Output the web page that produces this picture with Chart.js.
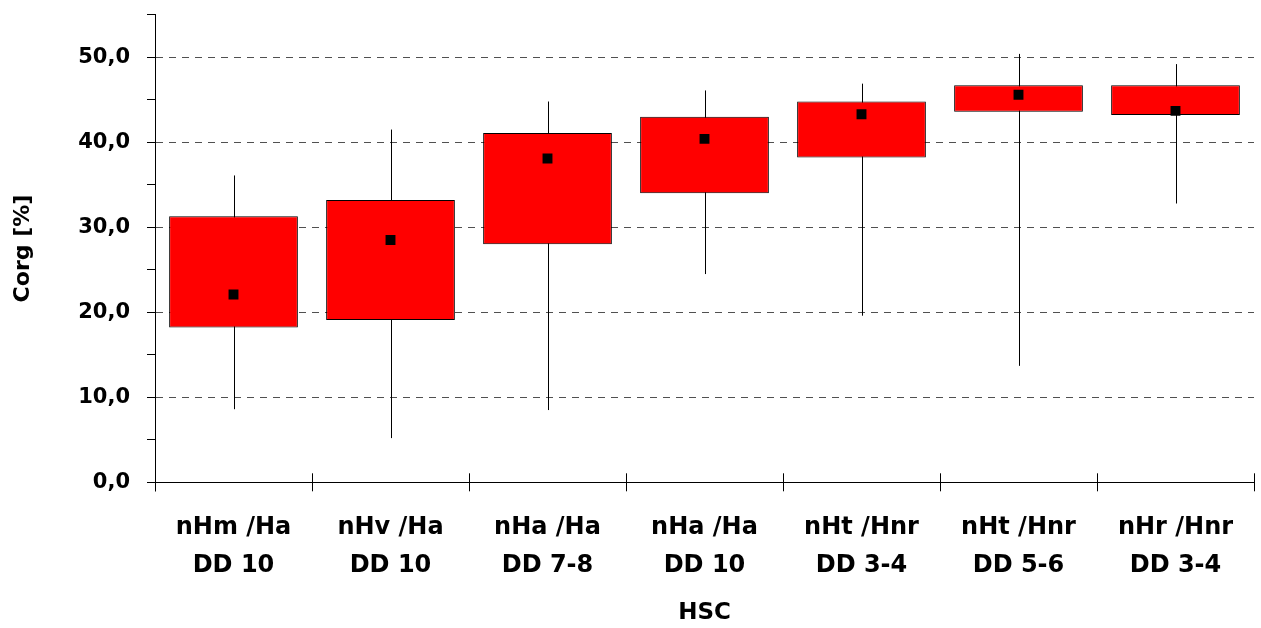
<!DOCTYPE html>
<html>
<head>
<meta charset="utf-8">
<script src="https://cdn.jsdelivr.net/npm/chart.js@4/dist/chart.umd.min.js"></script>
<style>
  html, body { margin: 0; padding: 0; background: #fff; }
  #wrap { width: 1261px; height: 628px; }
</style>
</head>
<body>
<div id="wrap"><canvas id="c" width="1261" height="628"></canvas></div>
<script>
const categories = [
  ["nHm /Ha", "DD 10"],
  ["nHv /Ha", "DD 10"],
  ["nHa /Ha", "DD 7-8"],
  ["nHa /Ha", "DD 10"],
  ["nHt /Hnr", "DD 3-4"],
  ["nHt /Hnr", "DD 5-6"],
  ["nHr /Hnr", "DD 3-4"]
];
const boxLow      = [18.2, 19.1, 28.0, 34.0, 38.2, 43.6, 43.2];
const boxHigh     = [31.3, 33.2, 41.1, 43.0, 44.8, 46.7, 46.7];
const whiskerLow  = [8.6, 5.2, 8.5, 24.5, 19.6, 13.7, 32.8];
const whiskerHigh = [36.1, 41.5, 44.8, 46.1, 46.9, 50.4, 49.2];
const markerVals  = [22.1, 28.5, 38.1, 40.4, 43.3, 45.6, 43.7];
const yTickValues = [0, 10, 20, 30, 40, 50];

const FONT = "'DejaVu Sans', 'Liberation Sans', Arial, sans-serif";

const boxData = boxLow.map((lo, i) => [lo, boxHigh[i]]);

const extrasPlugin = {
  id: 'extras',
  beforeDatasetsDraw(chart) {
    const ctx = chart.ctx;
    const x = chart.scales.x, y = chart.scales.y;
    ctx.save();
    ctx.strokeStyle = '#000';
    ctx.lineWidth = 1;
    for (let i = 0; i < categories.length; i++) {
      const px = Math.round(x.getPixelForValue(i)) + 0.5;
      ctx.beginPath();
      ctx.moveTo(px, y.getPixelForValue(whiskerLow[i]));
      ctx.lineTo(px, y.getPixelForValue(whiskerHigh[i]));
      ctx.stroke();
    }
    ctx.restore();
  },
  afterDraw(chart) {
    const ctx = chart.ctx;
    const x = chart.scales.x;
    const area = chart.chartArea;
    ctx.save();
    ctx.strokeStyle = '#000';
    ctx.lineWidth = 1;
    for (let i = 0; i <= categories.length; i++) {
      const px = Math.round(x.getPixelForValue(i - 0.5)) + 0.5;
      ctx.beginPath();
      ctx.moveTo(px, area.bottom);
      ctx.lineTo(px, area.bottom - 9);
      ctx.stroke();
    }
    ctx.beginPath();
    ctx.moveTo(Math.round(area.left) + 0.5, area.bottom);
    ctx.lineTo(Math.round(area.left) + 0.5, area.bottom + 9);
    ctx.stroke();
    ctx.restore();
  }
};

new Chart(document.getElementById('c'), {
  type: 'bar',
  data: {
    labels: categories,
    datasets: [
      {
        type: 'line',
        data: markerVals,
        showLine: false,
        pointStyle: 'rect',
        pointRadius: 7,
        pointHoverRadius: 7,
        pointBackgroundColor: '#000',
        pointBorderWidth: 0,
        order: 0
      },
      {
        type: 'bar',
        data: boxData,
        backgroundColor: '#ff0000',
        borderColor: '#000',
        borderWidth: 1,
        borderSkipped: false,
        barPercentage: 0.82,
        categoryPercentage: 1.0,
        order: 1
      }
    ]
  },
  options: {
    responsive: false,
    animation: false,
    events: [],
    layout: { padding: { top: 14.8, right: 3, left: 0, bottom: 0 } },
    plugins: {
      legend: { display: false },
      tooltip: { enabled: false }
    },
    scales: {
      x: {
        offset: true,
        grid: {
          offset: true,
          drawOnChartArea: false,
          drawTicks: true,
          tickLength: 9,
          tickColor: '#000',
          tickWidth: 1
        },
        border: { display: true, color: '#000', width: 1 },
        ticks: {
          color: '#000',
          font: { family: FONT, size: 24, weight: 'bold', lineHeight: 1.58 },
          padding: 18,
          maxRotation: 0,
          autoSkip: false
        },
        title: {
          display: true,
          text: 'HSC',
          color: '#000',
          font: { family: FONT, size: 23, weight: 'bold' },
          padding: { top: 0, bottom: 1 }
        },
        afterFit(scale) { scale.height = 145.7; }
      },
      y: {
        min: 0,
        max: 55,
        grid: {
          color: (ctx) => {
            const v = ctx.tick ? ctx.tick.value : null;
            return (v !== null && v !== 0 && yTickValues.includes(v)) ? '#505050' : 'rgba(0,0,0,0)';
          },
          lineWidth: 1,
          drawTicks: true,
          tickLength: 8,
          tickColor: '#000',
          tickWidth: 1
        },
        border: { display: true, color: '#000', width: 1, dash: [7, 6] },
        ticks: {
          stepSize: 5,
          autoSkip: false,
          color: '#000',
          padding: 17,
          font: { family: FONT, size: 21, weight: 'bold' },
          callback: (v) => yTickValues.includes(v) ? v.toFixed(1).replace('.', ',') : ''
        },
        title: {
          display: true,
          text: 'Corg [%]',
          color: '#000',
          font: { family: FONT, size: 22, weight: 'bold' },
          padding: { top: 10, bottom: 0 }
        },
        afterFit(scale) {
          scale.width = 155;
          scale.paddingTop = 0;
          scale.paddingBottom = 0;
          if (scale._margins) { scale._margins.top = 0; scale._margins.bottom = 0; }
        }
      }
    }
  },
  plugins: [extrasPlugin]
});
</script>
</body>
</html>
